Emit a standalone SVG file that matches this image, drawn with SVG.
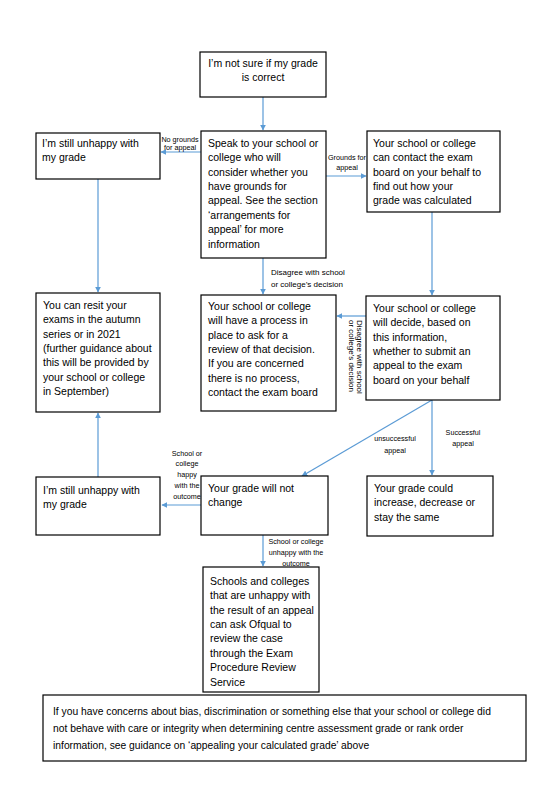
<svg xmlns="http://www.w3.org/2000/svg" width="553" height="793" viewBox="0 0 553 793">
<style>
.box{fill:#fff;stroke:#000;stroke-width:1.2}
.t{font-family:"Liberation Sans",Arial,sans-serif;font-size:10.5px;fill:#000}
.tb{font-family:"Liberation Sans",Arial,sans-serif;font-size:10.3px;fill:#000}
.l{font-family:"Liberation Sans",Arial,sans-serif;font-size:7.2px;fill:#000}
.l8{font-family:"Liberation Sans",Arial,sans-serif;font-size:8px;fill:#000}
.c{fill:none;stroke:#5B9BD5;stroke-width:1.2;marker-end:url(#ah)}
</style>
<defs>
<marker id="ah" viewBox="0 0 10 10" refX="9" refY="5" markerWidth="6" markerHeight="6" markerUnits="userSpaceOnUse" orient="auto">
<path d="M0,0 L10,5 L0,10 z" fill="#5B9BD5"/>
</marker>
</defs>
<rect width="553" height="793" fill="#fff"/>

<g id="connectors">
<path class="c" d="M263,97 L263,130"/>
<path class="c" d="M201,152 L161,152"/>
<path class="c" d="M326,176 L366,176"/>
<path class="c" d="M98,179 L98,292"/>
<path class="c" d="M263,258 L263,294"/>
<path class="c" d="M432,212 L432,295"/>
<path class="c" d="M366,316 L337,316"/>
<path class="c" d="M432,400 L432,475"/>
<path class="c" d="M432,400 L302,476"/>
<path class="c" d="M201,505 L162,505"/>
<path class="c" d="M98,477 L98,413"/>
<path class="c" d="M263,535 L263,566"/>
<g class="l" text-anchor="middle">
<text x="180" y="141.5">No grounds</text>
<text x="180" y="150">for appeal</text>
<text x="347" y="160">Grounds for</text>
<text x="347" y="170">appeal</text>
<text x="463" y="434.5">Successful</text>
<text x="463" y="445.5">appeal</text>
<text x="395" y="440.5">unsuccessful</text>
<text x="395" y="452.5">appeal</text>
<text x="187" y="455.5">School or</text>
<text x="187" y="466">college</text>
<text x="187" y="476.5">happy</text>
<text x="187" y="487.5">with the</text>
<text x="187" y="498.5">outcome</text>
<text x="296" y="543.5">School or college</text>
<text x="296" y="554.5">unhappy with the</text>
<text x="296" y="565.5">outcome</text>
</g>
<g class="l8">
<text x="271" y="275">Disagree with school</text>
<text x="271" y="287">or college’s decision</text>
<text transform="translate(357,320) rotate(90)">Disagree with school</text>
<text transform="translate(349,320) rotate(90)">or college’s decision</text>
</g>
</g>

<g id="n1">
<rect class="box" x="200" y="52" width="126" height="45"/>
<text class="t" x="263" text-anchor="middle"><tspan x="263" y="67">I’m not sure if my grade</tspan><tspan x="263" y="81.4">is correct</tspan></text>
</g>

<g id="n2">
<rect class="box" x="201" y="131" width="125" height="127"/>
<text class="t"><tspan x="208" y="146.7">Speak to your school or</tspan><tspan x="208" y="161.1">college who will</tspan><tspan x="208" y="175.5">consider whether you</tspan><tspan x="208" y="189.9">have grounds for</tspan><tspan x="208" y="204.3">appeal. See the section</tspan><tspan x="208" y="218.7">‘arrangements for</tspan><tspan x="208" y="233.1">appeal’ for more</tspan><tspan x="208" y="247.5">information</tspan></text>
</g>

<g id="n3">
<rect class="box" x="36" y="133" width="124" height="46"/>
<text class="t"><tspan x="42" y="146.7">I’m still unhappy with</tspan><tspan x="42" y="161.1">my grade</tspan></text>
</g>

<g id="n4">
<rect class="box" x="367" y="131" width="133" height="81"/>
<text class="t"><tspan x="373" y="146.7">Your school or college</tspan><tspan x="373" y="161.1">can contact the exam</tspan><tspan x="373" y="175.5">board on your behalf to</tspan><tspan x="373" y="189.9">find out how your</tspan><tspan x="373" y="204.3">grade was calculated</tspan></text>
</g>

<g id="n5">
<rect class="box" x="36" y="293" width="124" height="119"/>
<text class="t"><tspan x="43" y="308.7">You can resit your</tspan><tspan x="43" y="323.1">exams in the autumn</tspan><tspan x="43" y="337.5">series or in 2021</tspan><tspan x="43" y="351.9">(further guidance about</tspan><tspan x="43" y="366.3">this will be provided by</tspan><tspan x="43" y="380.7">your school or college</tspan><tspan x="43" y="395.1">in September)</tspan></text>
</g>

<g id="n6">
<rect class="box" x="201" y="295" width="135" height="116"/>
<text class="t"><tspan x="208" y="309.7">Your school or college</tspan><tspan x="208" y="324.1">will have a process in</tspan><tspan x="208" y="338.5">place to ask for a</tspan><tspan x="208" y="352.9">review of that decision.</tspan><tspan x="208" y="367.3">If you are concerned</tspan><tspan x="208" y="381.7">there is no process,</tspan><tspan x="208" y="396.1">contact the exam board</tspan></text>
</g>

<g id="n7">
<rect class="box" x="366" y="296" width="134" height="104"/>
<text class="t"><tspan x="373" y="311.7">Your school or college</tspan><tspan x="373" y="326.1">will decide, based on</tspan><tspan x="373" y="340.5">this information,</tspan><tspan x="373" y="354.9">whether to submit an</tspan><tspan x="373" y="369.3">appeal to the exam</tspan><tspan x="373" y="383.7">board on your behalf</tspan></text>
</g>

<g id="n8">
<rect class="box" x="201" y="476" width="127" height="59"/>
<text class="t"><tspan x="208" y="491.7">Your grade will not</tspan><tspan x="208" y="506.1">change</tspan></text>
</g>

<g id="n9">
<rect class="box" x="36" y="477" width="124" height="58"/>
<text class="t"><tspan x="43" y="493.7">I’m still unhappy with</tspan><tspan x="43" y="508.1">my grade</tspan></text>
</g>

<g id="n10">
<rect class="box" x="367" y="476" width="126" height="60"/>
<text class="t"><tspan x="374" y="491.7">Your grade could</tspan><tspan x="374" y="506.1">increase, decrease or</tspan><tspan x="374" y="520.5">stay the same</tspan></text>
</g>

<g id="n11">
<rect class="box" x="203" y="567" width="116" height="125"/>
<text class="t"><tspan x="210" y="584.7">Schools and colleges</tspan><tspan x="210" y="599.1">that are unhappy with</tspan><tspan x="210" y="613.5">the result of an appeal</tspan><tspan x="210" y="627.9">can ask Ofqual to</tspan><tspan x="210" y="642.3">review the case</tspan><tspan x="210" y="656.7">through the Exam</tspan><tspan x="210" y="671.1">Procedure Review</tspan><tspan x="210" y="685.5">Service</tspan></text>
</g>

<g id="n12">
<rect class="box" x="43" y="695" width="483" height="66"/>
<text class="tb"><tspan x="53" y="714.5">If you have concerns about bias, discrimination or something else that your school or college did</tspan><tspan x="53" y="731.5">not behave with care or integrity when determining centre assessment grade or rank order</tspan><tspan x="53" y="748.5">information, see guidance on ‘appealing your calculated grade’ above</tspan></text>
</g>
</svg>
